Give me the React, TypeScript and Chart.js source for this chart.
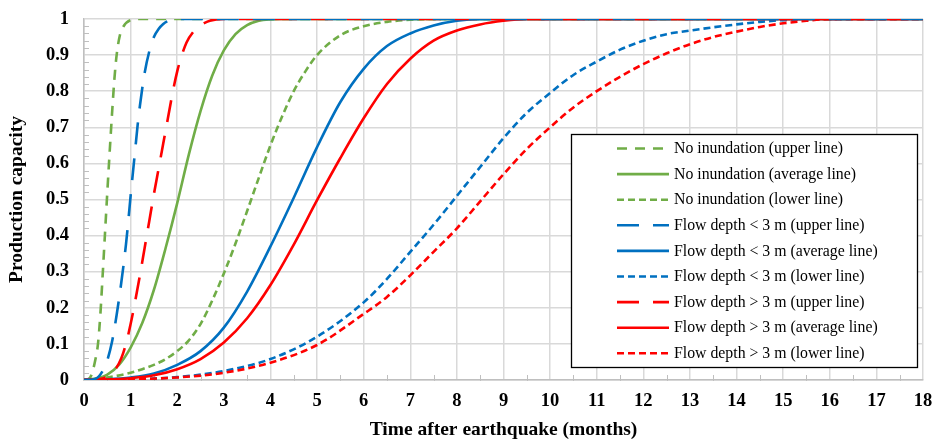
import { useEffect, useRef } from 'react';
import { Chart, registerables } from 'chart.js';

Chart.register(...registerables);

// Months after the earthquake (t) and production capacity (v) for each curve.
const noInundUpperT = [0, 0.1, 0.16, 0.25, 0.3, 0.35, 0.4, 0.45, 0.5, 0.55, 0.6, 0.65, 0.7, 0.77, 0.85, 1.0, 1.2, 18];
const noInundUpperV = [0, 0.003, 0.014, 0.06, 0.1, 0.18, 0.29, 0.405, 0.52, 0.63, 0.735, 0.83, 0.9, 0.955, 0.98, 0.997, 1, 1];

const noInundAvgT = [0, 0.25, 0.5, 0.75, 1.0, 1.25, 1.5, 1.75, 2.0, 2.25, 2.5, 2.75, 3.0, 3.25, 3.5, 3.75, 4.0, 4.25, 18];
const noInundAvgV = [0, 0.004, 0.015, 0.042, 0.09, 0.158, 0.25, 0.365, 0.49, 0.625, 0.745, 0.843, 0.913, 0.958, 0.983, 0.995, 0.999, 1, 1];

const noInundLowerT = [0, 0.5, 1.0, 1.25, 1.5, 1.75, 2.0, 2.25, 2.5, 2.75, 3.0, 3.25, 3.5, 3.75, 4.0, 4.25, 4.5, 4.75, 5.0, 5.5, 6.0, 6.5, 7.0, 7.5, 18];
const noInundLowerV = [0, 0.007, 0.02, 0.03, 0.042, 0.058, 0.08, 0.11, 0.155, 0.22, 0.295, 0.378, 0.468, 0.56, 0.65, 0.73, 0.8, 0.855, 0.9, 0.955, 0.98, 0.992, 0.998, 1, 1];

const shallowUpperT = [0, 0.24, 0.4, 0.5, 0.6, 0.7, 0.8, 0.9, 0.95, 1.0, 1.05, 1.1, 1.15, 1.2, 1.3, 1.4, 1.5, 1.6, 1.7, 1.8, 2.0, 18];
const shallowUpperV = [0, 0.003, 0.025, 0.055, 0.105, 0.18, 0.27, 0.375, 0.44, 0.51, 0.575, 0.64, 0.705, 0.76, 0.85, 0.91, 0.95, 0.972, 0.986, 0.994, 1, 1];

const shallowAvgT = [0, 0.5, 1.0, 1.5, 2.0, 2.5, 3.0, 3.5, 4.0, 4.5, 5.0, 5.5, 6.0, 6.5, 7.0, 7.5, 8.0, 8.5, 18];
const shallowAvgV = [0, 0.002, 0.007, 0.018, 0.042, 0.08, 0.145, 0.245, 0.37, 0.505, 0.645, 0.77, 0.862, 0.925, 0.96, 0.982, 0.995, 1, 1];

const shallowLowerT = [0, 1, 2, 3, 4, 5, 6, 6.5, 7, 7.5, 8, 8.5, 9, 9.5, 10, 10.5, 11, 11.5, 12, 12.5, 13, 13.5, 14, 14.5, 15, 15.5, 18];
const shallowLowerV = [0, 0.002, 0.008, 0.025, 0.058, 0.12, 0.215, 0.28, 0.355, 0.43, 0.51, 0.59, 0.67, 0.74, 0.795, 0.845, 0.882, 0.915, 0.94, 0.958, 0.968, 0.977, 0.985, 0.992, 0.997, 1, 1];

const deepUpperT = [0, 0.3, 0.5, 0.7, 0.8, 0.9, 1.0, 1.1, 1.2, 1.3, 1.4, 1.5, 1.6, 1.7, 1.8, 1.9, 2.0, 2.1, 2.2, 2.35, 2.5, 2.7, 3.0, 18];
const deepUpperV = [0, 0.002, 0.01, 0.035, 0.06, 0.1, 0.155, 0.22, 0.29, 0.365, 0.44, 0.515, 0.585, 0.655, 0.725, 0.795, 0.855, 0.9, 0.935, 0.965, 0.982, 0.995, 1, 1];

const deepAvgT = [0, 0.5, 1.0, 1.5, 2.0, 2.5, 3.0, 3.5, 4.0, 4.5, 5.0, 5.5, 6.0, 6.5, 7.0, 7.5, 8.0, 8.5, 9.0, 9.5, 18];
const deepAvgV = [0, 0.001, 0.005, 0.013, 0.03, 0.058, 0.104, 0.171, 0.263, 0.375, 0.498, 0.615, 0.725, 0.82, 0.89, 0.94, 0.968, 0.985, 0.995, 1, 1];

const deepLowerT = [0, 1, 2, 3, 4, 5, 6, 6.5, 7, 7.5, 8, 8.5, 9, 9.5, 10, 10.5, 11, 11.5, 12, 12.5, 13, 13.5, 14, 14.5, 15, 15.5, 16, 18];
const deepLowerV = [0, 0.002, 0.007, 0.02, 0.048, 0.097, 0.183, 0.23, 0.29, 0.355, 0.42, 0.495, 0.57, 0.64, 0.7, 0.755, 0.8, 0.84, 0.875, 0.905, 0.93, 0.95, 0.965, 0.978, 0.988, 0.995, 1, 1];

const seriesLabels = [
  'No inundation (upper line)',
  'No inundation (average line)',
  'No inundation (lower line)',
  'Flow depth < 3 m (upper line)',
  'Flow depth < 3 m (average line)',
  'Flow depth < 3 m (lower line)',
  'Flow depth > 3 m (upper line)',
  'Flow depth > 3 m (average line)',
  'Flow depth > 3 m (lower line)',
];

const xTickLabels = ['0', '1', '2', '3', '4', '5', '6', '7', '8', '9', '10', '11', '12', '13', '14', '15', '16', '17', '18'];
const yTickLabels = ['0', '0.1', '0.2', '0.3', '0.4', '0.5', '0.6', '0.7', '0.8', '0.9', '1'];

const GREEN = '#70AD47';
const BLUE = '#0070C0';
const RED = '#FF0000';

const DASH_UPPER_GREEN = [10, 8];
const DASH_UPPER = [22, 14];
const DASH_LOWER = [7, 4];

const zip = (t: number[], v: number[]) => t.map((x, i) => ({ x, y: v[i] }));

// layer: lower numbers are painted on top
const curves = [
  { t: noInundUpperT, v: noInundUpperV, color: GREEN, dash: DASH_UPPER_GREEN, layer: 7 },
  { t: noInundAvgT, v: noInundAvgV, color: GREEN, dash: [] as number[], layer: 8 },
  { t: noInundLowerT, v: noInundLowerV, color: GREEN, dash: DASH_LOWER, layer: 6 },
  { t: shallowUpperT, v: shallowUpperV, color: BLUE, dash: DASH_UPPER, layer: 0 },
  { t: shallowAvgT, v: shallowAvgV, color: BLUE, dash: [] as number[], layer: 5 },
  { t: shallowLowerT, v: shallowLowerV, color: BLUE, dash: DASH_LOWER, layer: 4 },
  { t: deepUpperT, v: deepUpperV, color: RED, dash: DASH_UPPER, layer: 1 },
  { t: deepAvgT, v: deepAvgV, color: RED, dash: [] as number[], layer: 2 },
  { t: deepLowerT, v: deepLowerV, color: RED, dash: DASH_LOWER, layer: 3 },
];

const FONT = '"Liberation Serif", "Times New Roman", serif';

// Short inner ticks between the gridlines on both axes.
const minorTicks = {
  id: 'minorTicks',
  beforeDatasetsDraw(chart: any) {
    const { ctx, chartArea, scales } = chart;
    ctx.save();
    ctx.strokeStyle = '#bfbfbf';
    ctx.lineWidth = 1;
    ctx.beginPath();
    for (let k = 1; k < 36; k += 2) {
      const px = Math.round(scales.x.getPixelForValue(k / 2)) + 0.5;
      ctx.moveTo(px, chartArea.bottom - 5);
      ctx.lineTo(px, chartArea.bottom + 1);
    }
    for (let k = 1; k < 50; k++) {
      if (k % 5 === 0) continue;
      const py = Math.round(scales.y.getPixelForValue(k / 50)) + 0.5;
      ctx.moveTo(chartArea.left, py);
      ctx.lineTo(chartArea.left + 5, py);
    }
    ctx.stroke();
    ctx.restore();
  },
};

// Boxed legend sitting inside the plot area.
const boxedLegend = {
  id: 'boxedLegend',
  afterDraw(chart: any) {
    const { ctx } = chart;
    const left = 571, top = 134, right = 917, bottom = 367;
    ctx.save();
    ctx.fillStyle = '#ffffff';
    ctx.fillRect(left, top, right - left, bottom - top);
    ctx.strokeStyle = '#000000';
    ctx.lineWidth = 1.3;
    ctx.strokeRect(left + 0.5, top + 0.5, right - left, bottom - top);
    chart.data.datasets.forEach((ds: any, i: number) => {
      const y = 148.5 + i * 25.6;
      ctx.strokeStyle = ds.borderColor;
      ctx.lineWidth = ds.borderWidth;
      ctx.setLineDash(ds.borderDash || []);
      ctx.beginPath();
      ctx.moveTo(617, y);
      ctx.lineTo(669, y);
      ctx.stroke();
      ctx.setLineDash([]);
      ctx.fillStyle = '#000000';
      ctx.font = `15.8px ${FONT}`;
      ctx.textBaseline = 'middle';
      ctx.textAlign = 'left';
      ctx.fillText(ds.label, 674, y + 0.5);
    });
    ctx.restore();
  },
};

const noScalePadding = (s: any) => {
  s.paddingTop = 0;
  s.paddingBottom = 0;
  s.paddingLeft = 0;
  s.paddingRight = 0;
};

export default function App() {
  const canvasRef = useRef<HTMLCanvasElement | null>(null);

  useEffect(() => {
    if (!canvasRef.current) return;
    const chart = new Chart(canvasRef.current, {
      type: 'line',
      data: {
        datasets: curves.map((c, i) => ({
          label: seriesLabels[i],
          data: zip(c.t, c.v),
          borderColor: c.color,
          backgroundColor: c.color,
          borderWidth: 2.6,
          borderDash: c.dash,
          pointRadius: 0,
          fill: false,
          cubicInterpolationMode: 'monotone' as const,
          order: c.layer,
        })),
      },
      options: {
        animation: false,
        responsive: false,
        maintainAspectRatio: false,
        devicePixelRatio: 1,
        layout: { padding: { left: 0, right: 11, top: 19, bottom: 0 } },
        plugins: { legend: { display: false }, tooltip: { enabled: false } },
        scales: {
          x: {
            type: 'linear',
            min: 0,
            max: 18,
            afterFit: (s: any) => { s.height = 62; noScalePadding(s); },
            ticks: {
              stepSize: 1,
              padding: 10,
              color: '#000',
              maxRotation: 0,
              font: { family: FONT, size: 18.5, weight: 'bold' },
              callback: (v: any) => xTickLabels[Math.round(Number(v))] ?? '',
            },
            grid: { color: '#d9d9d9', lineWidth: 1.5, drawTicks: false },
            border: { color: '#bfbfbf', width: 1.5 },
            title: {
              display: true,
              text: 'Time after earthquake (months)',
              color: '#000',
              font: { family: FONT, size: 19.5, weight: 'bold' },
              padding: { top: 0, bottom: 0 },
            },
          },
          y: {
            min: 0,
            max: 1,
            afterFit: (s: any) => { s.width = 84; noScalePadding(s); },
            ticks: {
              stepSize: 0.1,
              padding: 15,
              color: '#000',
              font: { family: FONT, size: 18.5, weight: 'bold' },
              callback: (v: any) => yTickLabels[Math.round(Number(v) * 10)] ?? '',
            },
            grid: { color: '#d9d9d9', lineWidth: 1.5, drawTicks: false },
            border: { color: '#bfbfbf', width: 1.5 },
            title: {
              display: true,
              text: 'Production capacity',
              color: '#000',
              font: { family: FONT, size: 19.5, weight: 'bold' },
              padding: { top: 5, bottom: 0 },
            },
          },
        },
      },
      plugins: [minorTicks, boxedLegend],
    });
    return () => chart.destroy();
  }, []);

  return (
    <div style={{ position: 'fixed', left: 0, top: 0, width: 934, height: 442, background: '#fff' }}>
      <canvas ref={canvasRef} width={934} height={442} style={{ width: 934, height: 442, display: 'block' }} />
    </div>
  );
}
